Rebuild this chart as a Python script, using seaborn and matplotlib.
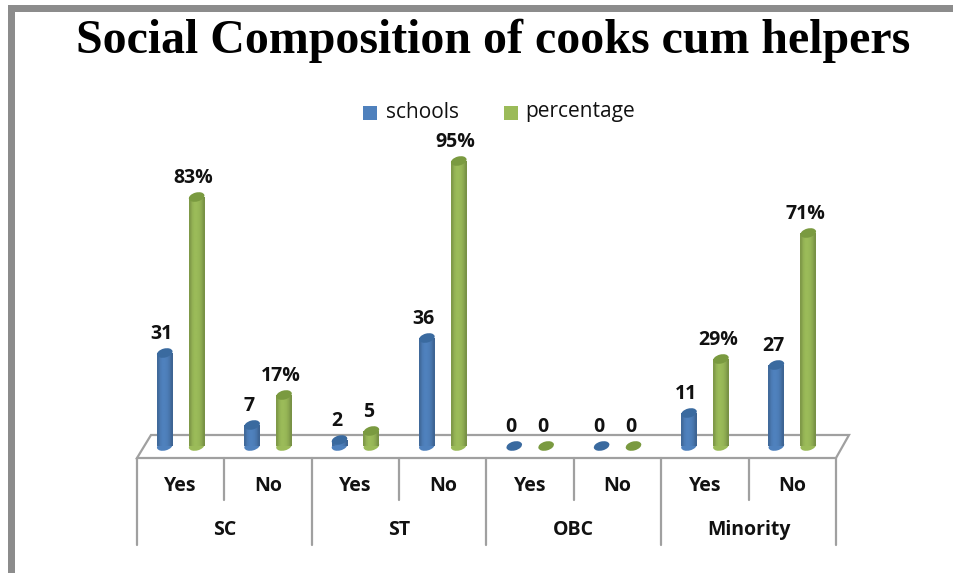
import numpy as np
import pandas as pd
import matplotlib
matplotlib.use('Agg')
import matplotlib.pyplot as plt
import seaborn as sns
from matplotlib.patches import Ellipse, Polygon, Rectangle

# --- data ---
groups = ['SC', 'SC', 'ST', 'ST', 'OBC', 'OBC', 'Minority', 'Minority']
answers = ['Yes', 'No', 'Yes', 'No', 'Yes', 'No', 'Yes', 'No']
schools = [31, 7, 2, 36, 0, 0, 11, 27]
percentage = [83, 17, 5, 95, 0, 0, 29, 71]
school_labels = ['31', '7', '2', '36', '0', '0', '11', '27']
percent_labels = ['83%', '17%', '5', '95%', '0', '0', '29%', '71%']
group_names = ['SC', 'ST', 'OBC', 'Minority']

BLUE = '#4f81bd'
GREEN = '#9bbb59'
BLUE_TOP = '#3a6a9f'
GREEN_TOP = '#7a9a40'
GRAY = '#a0a0a0'
INK = '#111111'
W, H = 954, 573

sns.set_theme(style='white')
plt.rcParams['font.family'] = ['Open Sans', 'DejaVu Sans']

df = pd.DataFrame({
    'slot': [f'{i}' for i in range(8)] * 2,
    'value': schools + percentage,
    'series': ['schools'] * 8 + ['percentage'] * 8,
})

fig = plt.figure(figsize=(W / 100, H / 100), dpi=100, facecolor='white')
ax = fig.add_axes([137 / W, 1 - 446 / H, (836 - 137) / W, 300 / H])
sns.barplot(data=df, x='slot', y='value', hue='series', order=[f'{i}' for i in range(8)],
            hue_order=['schools', 'percentage'], palette=[BLUE, GREEN],
            width=0.73, gap=0.5, saturation=1, legend=False, ax=ax, zorder=3)
ax.set_xlim(-0.5, 7.5)
ax.set_ylim(0, 100)
ax.axis('off')

# overlay in pixel coords for the 3D look, frame and text
ov = fig.add_axes([0, 0, 1, 1], zorder=5)
ov.set_xlim(0, W)
ov.set_ylim(H, 0)
ov.axis('off')
ov.patch.set_alpha(0)

under = fig.add_axes([0, 0, 1, 1], zorder=-1)
under.set_xlim(0, W)
under.set_ylim(H, 0)
under.axis('off')


def to_px(x, y):
    px, py = ax.transData.transform((x, y))
    return px / fig.dpi * 100, H - py / fig.dpi * 100


# frame
under.add_patch(Rectangle((8, 5), 7.5, 568, color='#8c8c8c', lw=0))
under.add_patch(Rectangle((8, 5), 946, 7, color='#8c8c8c', lw=0))

# floor
under.add_patch(Polygon([(137, 458), (151, 435), (849, 435), (836, 458)], closed=True,
                        facecolor='white', edgecolor=GRAY, lw=1.6))

# category table
for i in range(9):
    x = 137 + i * (836 - 137) / 8
    bottom = 545 if i % 2 == 0 else 500
    under.plot([x, x], [458, bottom], color=GRAY, lw=1.6)
for i, ans in enumerate(answers):
    cx = to_px(i, 0)[0]
    ov.text(cx, 486, ans, ha='center', va='center', fontsize=14, fontweight='bold', color=INK)
for i, name in enumerate(group_names):
    cx = to_px(2 * i + 0.5, 0)[0]
    ov.text(cx, 530, name, ha='center', va='center', fontsize=14, fontweight='bold', color=INK)

# cylinder shading and caps, built from the bars seaborn drew
shade = np.array([0.82, 0.95, 1.0, 1.0, 0.97, 0.9, 0.78]).reshape(1, -1, 1)
n = len(schools)
series = [(ax.patches[:n], schools, school_labels, BLUE, BLUE_TOP),
          (ax.patches[n:2 * n], percentage, percent_labels, GREEN, GREEN_TOP)]
for bars, vals, labels, col, top_col in series:
    rgb = np.array(matplotlib.colors.to_rgb(col)).reshape(1, 1, 3)
    for bar, val, lab in zip(bars, vals, labels):
        x0, _ = to_px(bar.get_x(), 0)
        x1, y0 = to_px(bar.get_x() + bar.get_width(), 0)
        _, y1 = to_px(bar.get_x(), val)
        cx = (x0 + x1) / 2
        if val > 0:
            bar.set_visible(False)
            ov.add_patch(Ellipse((cx, y0), x1 - x0, 9, angle=-15, color=col, lw=0))
            ov.imshow(shade * rgb, extent=(x0, x1, y0, y1), aspect='auto',
                      interpolation='bilinear', zorder=2)
        ov.add_patch(Ellipse((cx, y1), x1 - x0, 9, angle=-15, color=top_col, lw=0, zorder=3))
        ov.text(cx - 3, y1 - 19, lab, ha='center', va='center', fontsize=14,
                fontweight='bold', color=INK, zorder=4)
ov.set_xlim(0, W)
ov.set_ylim(H, 0)

# title and legend
ov.text(493, 41, 'Social Composition of cooks cum helpers', ha='center', va='center',
        fontsize=34.5, fontweight='bold', family='Liberation Serif', color='black')
ov.add_patch(Rectangle((363, 106), 14, 13.5, color=BLUE, lw=0))
ov.text(386, 112, 'schools', ha='left', va='center', fontsize=15, color=INK)
ov.add_patch(Rectangle((504, 106), 14, 13.5, color=GREEN, lw=0))
ov.text(525, 112, 'percentage', ha='left', va='center', fontsize=15, color=INK)

plt.savefig('out.png', dpi=100)
